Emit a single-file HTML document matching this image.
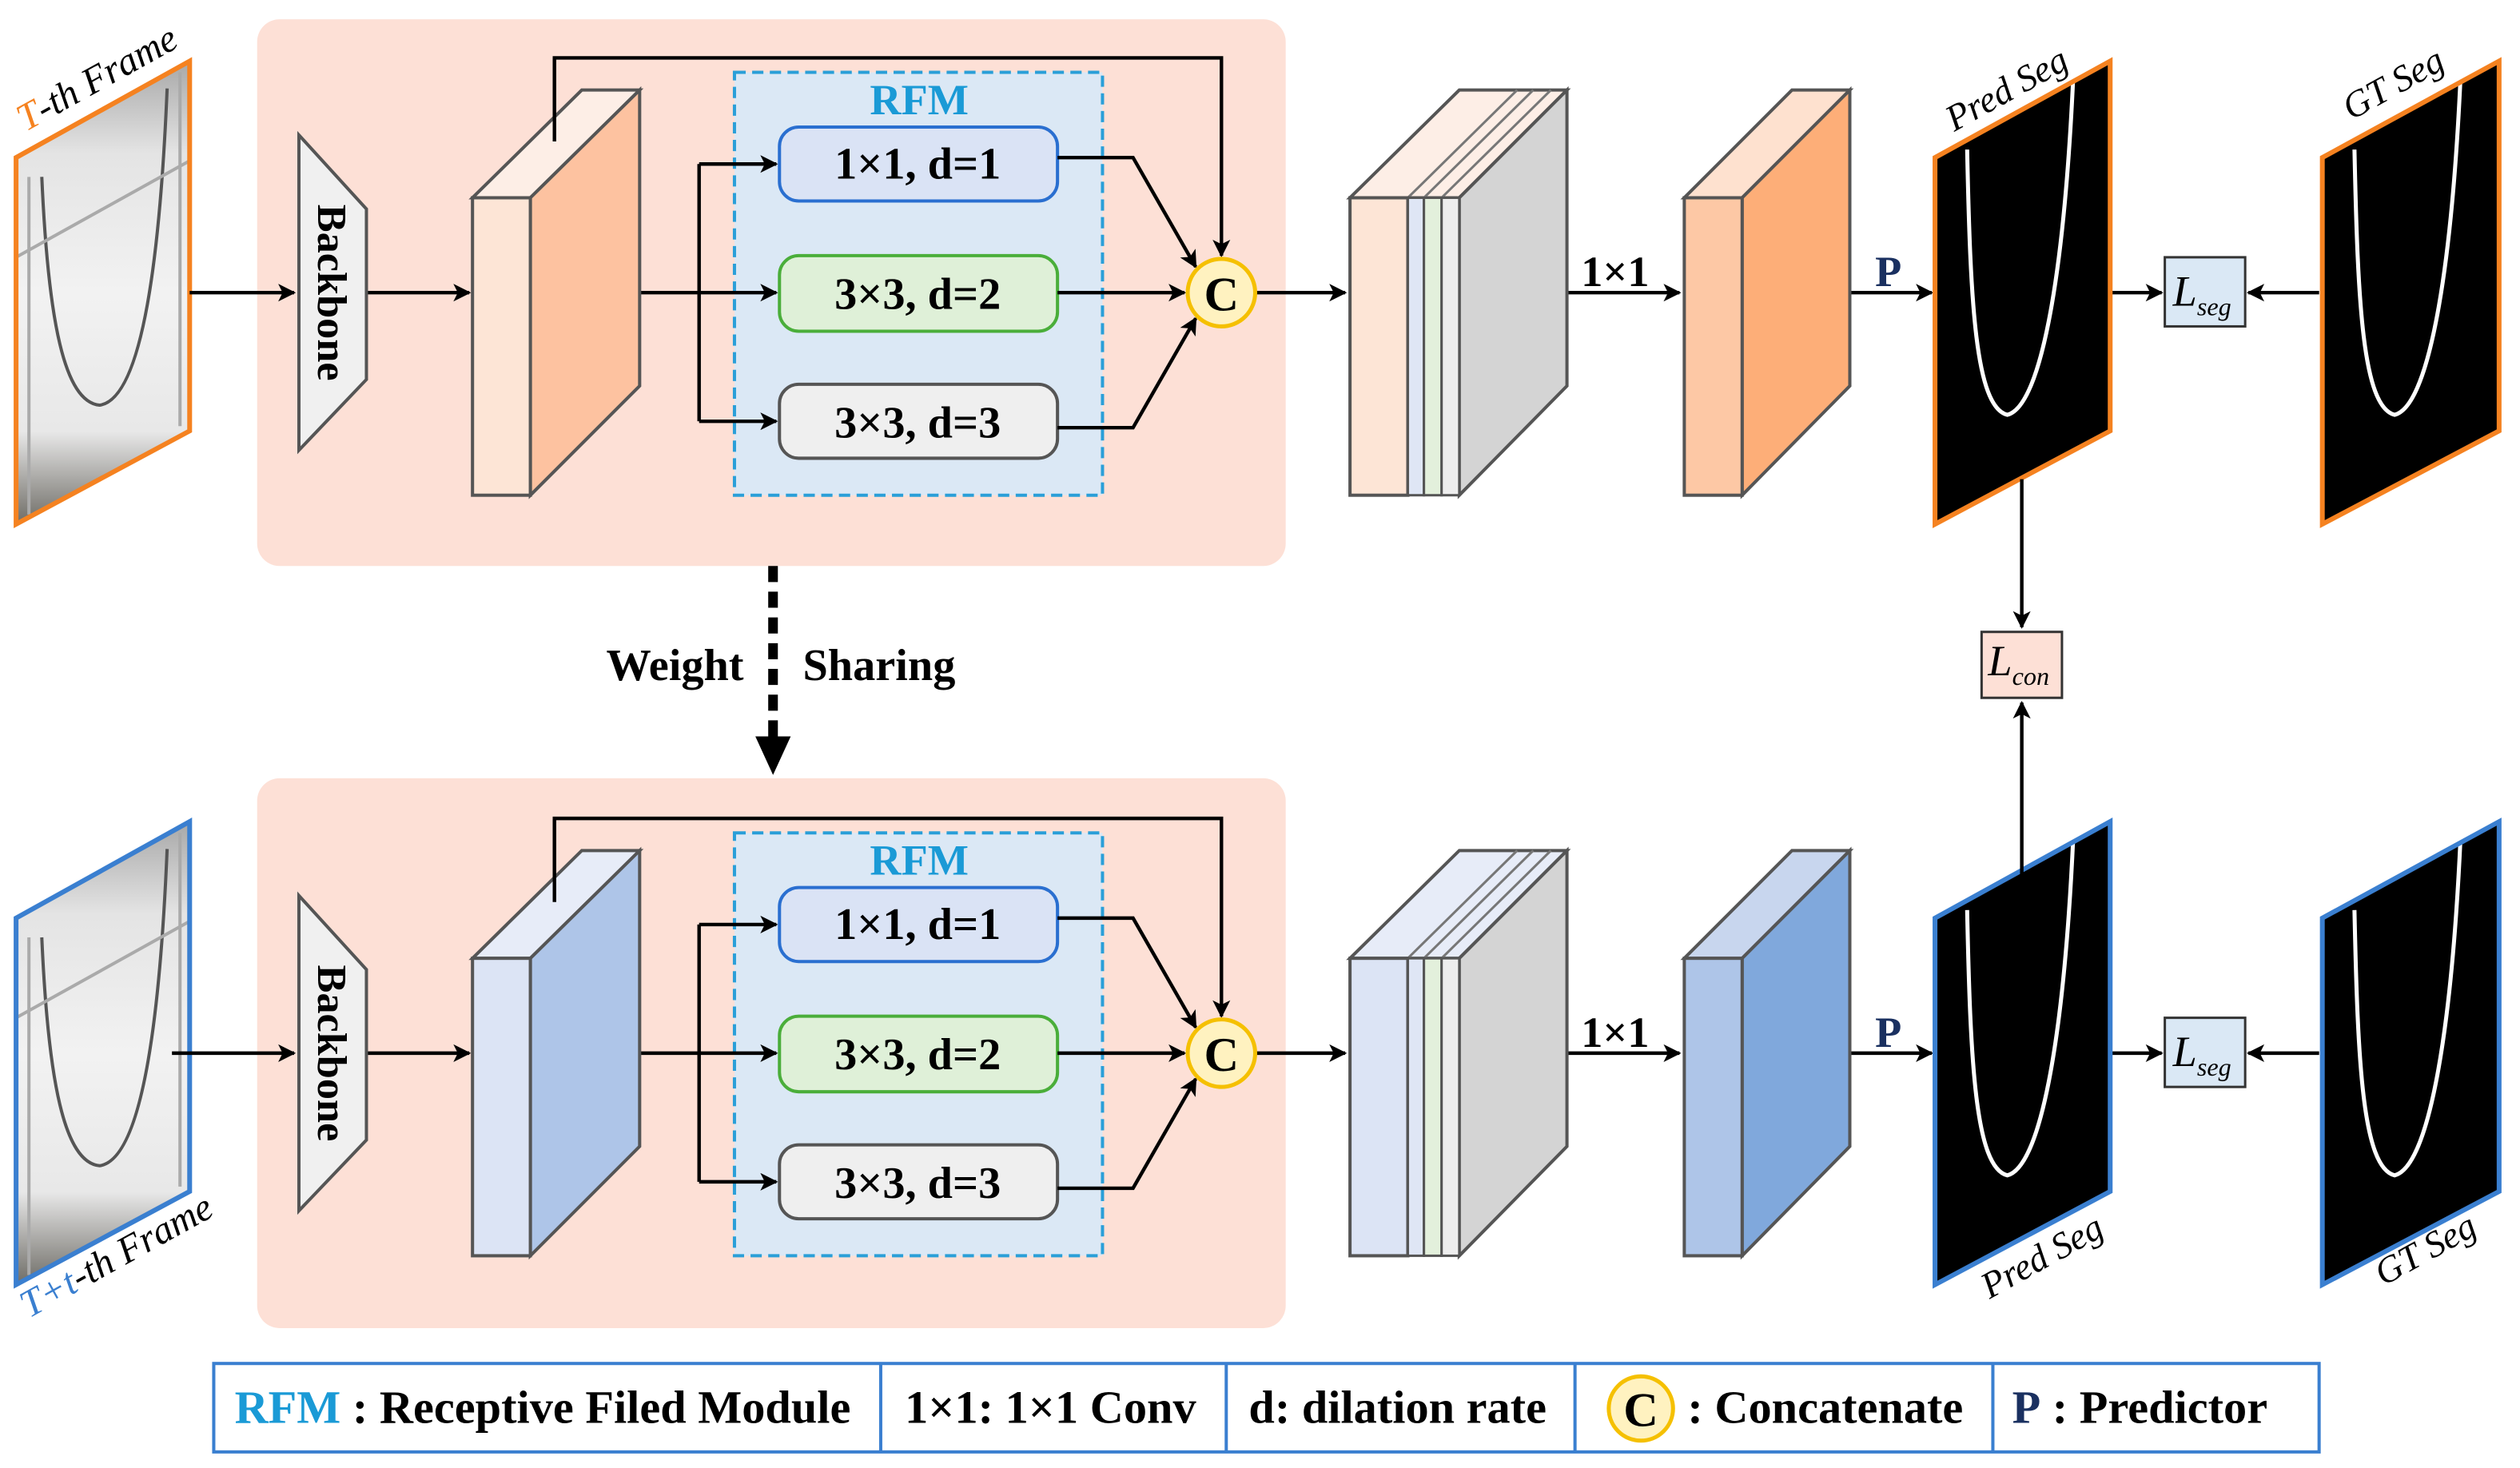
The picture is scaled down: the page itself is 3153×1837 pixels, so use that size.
<!DOCTYPE html>
<html><head><meta charset="utf-8"><style>html,body{margin:0;padding:0;background:#fff}svg{display:block}svg text{font-family:"Liberation Serif","Times New Roman",serif}</style></head>
<body>
<svg width="3153" height="1837" viewBox="0 0 1568 913" preserveAspectRatio="none" xmlns="http://www.w3.org/2000/svg">
<defs>
<marker id="ah" viewBox="0 0 10 10" refX="9" refY="5" markerWidth="12" markerHeight="11" orient="auto-start-reverse" markerUnits="userSpaceOnUse"><path d="M0,0 L10,5 L0,10 L2.5,5 z" fill="#000"/></marker>
<linearGradient id="photo" x1="0" y1="0" x2="0" y2="1"><stop offset="0" stop-color="#a8a8a8"/><stop offset="0.2" stop-color="#e4e4e4"/><stop offset="0.5" stop-color="#f2f2f2"/><stop offset="0.8" stop-color="#e8e8e8"/><stop offset="1" stop-color="#6e6c66"/></linearGradient>
<g id="photoimg">
<path d="M10,98 L118,38 L118,268 L10,326 Z" fill="url(#photo)"/>
<path d="M26,110 C30,200 40,250 62,252 C90,248 100,150 104,55" fill="none" stroke="#555" stroke-width="2"/>
<path d="M18,110 L18,320 M112,45 L112,265 M10,160 L118,100" stroke="#aaa" stroke-width="2"/>
</g>
<g id="segimg">
<path d="M0,60 L109,0 L109,230 L0,288 Z" fill="#000"/>
<path d="M20,55 C22,150 25,215 45,220 C65,215 80,140 86,10" fill="none" stroke="#fff" stroke-width="2.5"/>
</g>
<g id="rfm">
<rect x="457" y="45" width="229" height="263" fill="#dbe8f5" stroke="#2a9fd8" stroke-width="2" stroke-dasharray="7,4"/>
<text x="572" y="71" text-anchor="middle" font-size="27" font-weight="bold" fill="#1a9ad6">RFM</text>
<rect x="485" y="79" width="173" height="46" rx="12" fill="#dae3f5" stroke="#2a6fd0" stroke-width="2"/>
<text x="571" y="111" text-anchor="middle" font-size="28" font-weight="bold">1×1, d=1</text>
<rect x="485" y="159" width="173" height="47" rx="12" fill="#dff0d8" stroke="#4aae3a" stroke-width="2"/>
<text x="571" y="192" text-anchor="middle" font-size="28" font-weight="bold">3×3, d=2</text>
<rect x="485" y="239" width="173" height="46" rx="12" fill="#efefef" stroke="#555" stroke-width="2"/>
<text x="571" y="272" text-anchor="middle" font-size="28" font-weight="bold">3×3, d=3</text>
<g stroke="#000" stroke-width="2.2" fill="none">
<path d="M398,182 L483,182" marker-end="url(#ah)"/>
<path d="M435,102 L435,262"/>
<path d="M435,102 L483,102" marker-end="url(#ah)"/>
<path d="M435,262 L483,262" marker-end="url(#ah)"/>
<path d="M658,98 L705,98 L744,166" marker-end="url(#ah)"/>
<path d="M658,182 L737,182" marker-end="url(#ah)"/>
<path d="M658,266 L705,266 L744,198" marker-end="url(#ah)"/>
<path d="M345,88 L345,36 L760,36 L760,159" marker-end="url(#ah)"/>
<path d="M781,182 L837,182" marker-end="url(#ah)"/>
<path d="M228,182 L292,182" marker-end="url(#ah)"/>
<path d="M975,182 L1045,182" marker-end="url(#ah)"/>
<path d="M1151,182 L1202,182" marker-end="url(#ah)"/>
<path d="M1313,182 L1345,182" marker-end="url(#ah)"/>
<path d="M1443,182 L1399,182" marker-end="url(#ah)"/>
</g>
<circle cx="760" cy="182" r="21" fill="#fff2c0" stroke="#f5c000" stroke-width="2.5"/>
<text x="760" y="193" text-anchor="middle" font-size="30" font-weight="bold">C</text>
<path d="M186,84 L228,130 L228,236 L186,280 Z" fill="#f0f0f0" stroke="#555" stroke-width="2"/>
<text transform="translate(198,182) rotate(90)" text-anchor="middle" font-size="26" font-weight="bold">Backbone</text>
<text x="1005" y="178" text-anchor="middle" font-size="27" font-weight="bold">1×1</text>
<text x="1175" y="178" text-anchor="middle" font-size="27" font-weight="bold" fill="#1a3060">P</text>
<rect x="1347" y="160" width="50" height="43" fill="#dae8f5" stroke="#333" stroke-width="1.5"/>
<text x="1352" y="190" font-size="27" font-style="italic">L<tspan font-size="16" dy="6">seg</tspan></text>
</g>
</defs>

<rect x="160" y="12" width="640" height="340" rx="14" fill="#fde0d6"/>
<rect x="160" y="484" width="640" height="342" rx="14" fill="#fde0d6"/>

<use href="#photoimg"/>
<path d="M10,98 L118,38 L118,268 L10,326 Z" fill="none" stroke="#f58220" stroke-width="3"/>
<path d="M118,182 L183,182" stroke="#000" stroke-width="2.2" marker-end="url(#ah)"/>
<text transform="translate(16,82) rotate(-29)" font-size="24" font-style="italic"><tspan fill="#f58220">T</tspan>-th Frame</text>
<use href="#rfm"/>
<path d="M294,123 L362,56 L398,56 L330,123 Z" fill="#fdeee6" stroke="#555" stroke-width="2"/>
<path d="M330,123 L398,56 L398,240 L330,308 Z" fill="#fdc2a0" stroke="#555" stroke-width="2"/>
<rect x="294" y="123" width="36" height="185" fill="#fde5d6" stroke="#555" stroke-width="2"/>
<path d="M345,88 L345,36" stroke="#000" stroke-width="2.2"/>
<path d="M840,123 L908,56 L975,56 L908,123 Z" fill="#fdeee6" stroke="#555" stroke-width="2"/>
<path d="M876,123 L944,56 M886,123 L954,56 M897,123 L965,56" stroke="#777" stroke-width="1.5"/>
<path d="M908,123 L975,56 L975,240 L908,308 Z" fill="#d4d4d4" stroke="#555" stroke-width="2"/>
<rect x="840" y="123" width="36" height="185" fill="#fde5d6" stroke="#555" stroke-width="2"/>
<rect x="876" y="123" width="10" height="185" fill="#dfe6f5" stroke="#555" stroke-width="1.5"/>
<rect x="886" y="123" width="11" height="185" fill="#e3f0dc" stroke="#555" stroke-width="1.5"/>
<rect x="897" y="123" width="11" height="185" fill="#eeeeee" stroke="#555" stroke-width="1.5"/>
<path d="M1048,123 L1115,56 L1151,56 L1084,123 Z" fill="#fee1cf" stroke="#555" stroke-width="2"/>
<path d="M1084,123 L1151,56 L1151,240 L1084,308 Z" fill="#fdae78" stroke="#555" stroke-width="2"/>
<rect x="1048" y="123" width="36" height="185" fill="#fdc8a5" stroke="#555" stroke-width="2"/>
<use href="#segimg" transform="translate(1204,38)"/>
<path d="M1204,98 L1313,38 L1313,268 L1204,326 Z" fill="none" stroke="#f58220" stroke-width="3"/>
<use href="#segimg" transform="translate(1445,38)"/>
<path d="M1445,98 L1555,38 L1555,268 L1445,326 Z" fill="none" stroke="#f58220" stroke-width="3"/>
<text transform="translate(1216,82) rotate(-29)" font-size="23" font-style="italic">Pred Seg</text>
<text transform="translate(1463,75) rotate(-29)" font-size="23" font-style="italic">GT Seg</text>

<g transform="translate(0,473)">
<use href="#photoimg"/>
<path d="M10,98 L118,38 L118,268 L10,326 Z" fill="none" stroke="#3a7fd0" stroke-width="3"/>
<path d="M107,182 L183,182" stroke="#000" stroke-width="2.2" marker-end="url(#ah)"/>
<use href="#rfm"/>
<path d="M294,123 L362,56 L398,56 L330,123 Z" fill="#e7ecf8" stroke="#555" stroke-width="2"/>
<path d="M330,123 L398,56 L398,240 L330,308 Z" fill="#aec5e8" stroke="#555" stroke-width="2"/>
<rect x="294" y="123" width="36" height="185" fill="#dce4f5" stroke="#555" stroke-width="2"/>
<path d="M345,88 L345,36" stroke="#000" stroke-width="2.2"/>
<path d="M840,123 L908,56 L975,56 L908,123 Z" fill="#e7ecf8" stroke="#555" stroke-width="2"/>
<path d="M876,123 L944,56 M886,123 L954,56 M897,123 L965,56" stroke="#777" stroke-width="1.5"/>
<path d="M908,123 L975,56 L975,240 L908,308 Z" fill="#d4d4d4" stroke="#555" stroke-width="2"/>
<rect x="840" y="123" width="36" height="185" fill="#dce4f5" stroke="#555" stroke-width="2"/>
<rect x="876" y="123" width="10" height="185" fill="#dfe6f5" stroke="#555" stroke-width="1.5"/>
<rect x="886" y="123" width="11" height="185" fill="#e3f0dc" stroke="#555" stroke-width="1.5"/>
<rect x="897" y="123" width="11" height="185" fill="#eeeeee" stroke="#555" stroke-width="1.5"/>
<path d="M1048,123 L1115,56 L1151,56 L1084,123 Z" fill="#c8d6ee" stroke="#555" stroke-width="2"/>
<path d="M1084,123 L1151,56 L1151,240 L1084,308 Z" fill="#80a8dc" stroke="#555" stroke-width="2"/>
<rect x="1048" y="123" width="36" height="185" fill="#aec5e8" stroke="#555" stroke-width="2"/>
<use href="#segimg" transform="translate(1204,38)"/>
<path d="M1204,98 L1313,38 L1313,268 L1204,326 Z" fill="none" stroke="#3a7fd0" stroke-width="3"/>
<use href="#segimg" transform="translate(1445,38)"/>
<path d="M1445,98 L1555,38 L1555,268 L1445,326 Z" fill="none" stroke="#3a7fd0" stroke-width="3"/>
</g>
<text transform="translate(18,820) rotate(-29)" font-size="24" font-style="italic"><tspan fill="#3a7fd0">T+t</tspan>-th Frame</text>
<text transform="translate(1238,808) rotate(-29)" font-size="23" font-style="italic">Pred Seg</text>
<text transform="translate(1483,800) rotate(-29)" font-size="23" font-style="italic">GT Seg</text>

<path d="M1258,298 L1258,390" stroke="#000" stroke-width="2.2" marker-end="url(#ah)"/>
<path d="M1258,545 L1258,437" stroke="#000" stroke-width="2.2" marker-end="url(#ah)"/>
<rect x="1233" y="393" width="50" height="41" fill="#fde0d6" stroke="#333" stroke-width="1.5"/>
<text x="1237" y="420" font-size="27" font-style="italic">L<tspan font-size="16" dy="6">con</tspan></text>

<path d="M481,352 L481,462" stroke="#000" stroke-width="6" stroke-dasharray="10,6" fill="none"/>
<path d="M470,458 L481,482 L492,458 Z" fill="#000"/>
<text x="420" y="423" text-anchor="middle" font-size="28" font-weight="bold">Weight</text>
<text x="547" y="423" text-anchor="middle" font-size="28" font-weight="bold">Sharing</text>

<rect x="133" y="848" width="1310" height="55" fill="#fff" stroke="#3a7fd0" stroke-width="2"/>
<path d="M548,848 L548,903 M763,848 L763,903 M980,848 L980,903 M1240,848 L1240,903" stroke="#3a7fd0" stroke-width="2"/>
<text x="146" y="885" font-size="29" font-weight="bold"><tspan fill="#1a9ad6">RFM</tspan> : Receptive Filed Module</text>
<text x="563" y="885" font-size="29" font-weight="bold">1×1: 1×1 Conv</text>
<text x="777" y="885" font-size="29" font-weight="bold">d: dilation rate</text>
<circle cx="1021" cy="876" r="20" fill="#fff2c0" stroke="#f5c000" stroke-width="2.5"/>
<text x="1021" y="887" text-anchor="middle" font-size="30" font-weight="bold">C</text>
<text x="1050" y="885" font-size="29" font-weight="bold">: Concatenate</text>
<text x="1252" y="885" font-size="29" font-weight="bold"><tspan fill="#1a3060">P</tspan> : Predictor</text>
</svg>
</body></html>
